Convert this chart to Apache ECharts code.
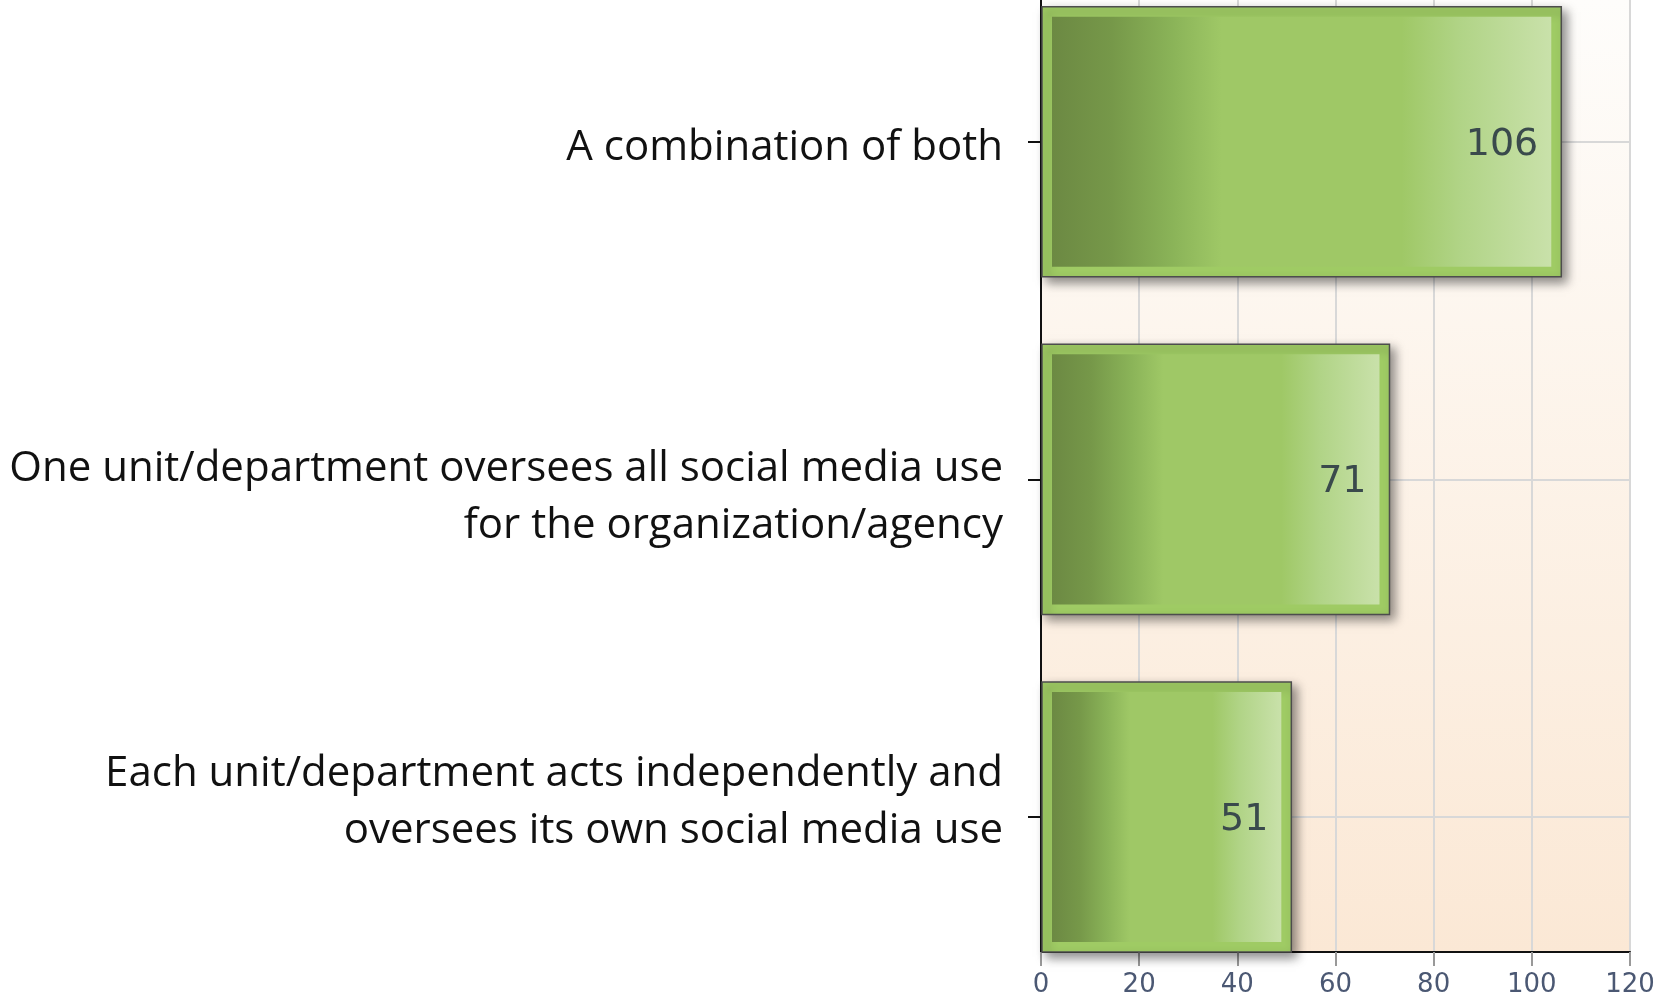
<!DOCTYPE html>
<html>
<head>
<meta charset="utf-8">
<script src="https://cdn.jsdelivr.net/npm/echarts@6/dist/echarts.min.js"></script>
<style>
  html, body { margin: 0; padding: 0; background: #fff; }
  #chart { width: 1675px; height: 1000px; }
</style>
</head>
<body>
<div id="chart"></div>
<script>
// top to bottom, as in the picture
const categories = [
  'A combination of both',
  'One unit/department oversees all social media use\nfor the organization/agency',
  'Each unit/department acts independently and\noversees its own social media use'
]
const counts = [106, 71, 51]
const xTicks = [0, 20, 40, 60, 80, 100, 120]

// slot 0 is the bottom row
const slotOf = (i) => categories.length - 1 - i
const slots = categories.map((c, i) => slotOf(i))

// labels sit a little off their tick in the original:
// spacer line height, > 0 above the text (pushes down), < 0 below it (pushes up)
const labelSpacer = [12, 37, -28]

const innerFill = {
  type: 'linear', x: 0, y: 0, x2: 1, y2: 0,
  colorStops: [
    { offset: 0, color: '#6c8943' },
    { offset: 0.12, color: '#769849' },
    { offset: 0.24, color: '#8ab358' },
    { offset: 0.34, color: '#9fc866' },
    { offset: 0.7, color: '#9fc866' },
    { offset: 0.82, color: '#b1d487' },
    { offset: 1, color: '#c9e1aa' }
  ]
}

const labelFont = { fontSize: 42, lineHeight: 57, fontFamily: 'Open Sans', color: '#111' }

const rich = { t: { ...labelFont } }
labelSpacer.forEach((s, i) => {
  rich['gap' + i] = { fontSize: 8, lineHeight: Math.abs(s) }
})

const chart = echarts.init(document.getElementById('chart'))

chart.setOption({
  backgroundColor: '#fff',
  animation: false,
  grid: {
    left: 1041, right: 45, top: 0, bottom: 48,
    show: true,
    borderWidth: 0,
    backgroundColor: {
      type: 'linear', x: 0, y: 0, x2: 0, y2: 1,
      colorStops: [
        { offset: 0, color: '#fefdfb' },
        { offset: 1, color: '#fbe8d5' }
      ]
    }
  },
  xAxis: {
    type: 'value',
    min: xTicks[0],
    max: xTicks[xTicks.length - 1],
    interval: xTicks[1] - xTicks[0],
    axisLine: { show: true, onZero: false, lineStyle: { color: '#111', width: 2 } },
    axisTick: { show: true, length: 14, lineStyle: { color: '#999', width: 2 } },
    axisLabel: {
      margin: 20,
      fontSize: 26,
      fontFamily: 'DejaVu Sans',
      color: '#4b5873'
    },
    splitLine: { show: true, lineStyle: { color: '#d8d8d8', width: 2 } }
  },
  yAxis: {
    type: 'value',
    min: -0.4,
    max: 2.42,
    axisLine: { show: true, onZero: false, lineStyle: { color: '#111', width: 2 } },
    axisTick: { show: true, length: 13, customValues: slots, lineStyle: { color: '#111', width: 2 } },
    axisLabel: {
      customValues: slots,
      margin: 38,
      align: 'right',
      ...labelFont,
      formatter: (v) => {
        const i = slotOf(v)
        const lines = categories[i].split('\n').map(l => `{t|${l}}`)
        if (labelSpacer[i] > 0) lines.unshift(`{gap${i}| }`)
        if (labelSpacer[i] < 0) lines.push(`{gap${i}| }`)
        return lines.join('\n')
      },
      rich
    },
    splitLine: { show: true, lineStyle: { color: '#d8d8d8', width: 2 } }
  },
  series: [{
    type: 'custom',
    data: counts.map((v, i) => [v, slotOf(i)]),
    encode: { x: 0, y: 1 },
    renderItem: (params, api) => {
      const val = api.value(0)
      const slot = api.value(1)
      const base = api.coord([0, slot])
      const tip = api.coord([val, slot])
      const h = api.size([0, 0.8])[1]
      const x = base[0] + 1
      const y = base[1] - h / 2
      const w = tip[0] - x
      return {
        type: 'group',
        children: [{
          type: 'rect',
          shape: { x, y, width: w, height: h },
          style: {
            fill: '#9fcb64',
            stroke: '#4d4d4d',
            lineWidth: 1.5,
            shadowBlur: 10,
            shadowOffsetX: 5,
            shadowOffsetY: 5,
            shadowColor: 'rgba(0,0,0,0.45)'
          }
        }, {
          type: 'rect',
          shape: { x: x + 10, y: y + 10, width: w - 20, height: h - 20 },
          style: { fill: innerFill }
        }, {
          type: 'text',
          x: tip[0] - 23,
          y: base[1] + 3,
          style: {
            text: String(val),
            align: 'right',
            verticalAlign: 'middle',
            fontSize: 38,
            fontFamily: 'DejaVu Sans',
            fill: '#3a4a4c'
          }
        }]
      }
    }
  }]
})
</script>
</body>
</html>
